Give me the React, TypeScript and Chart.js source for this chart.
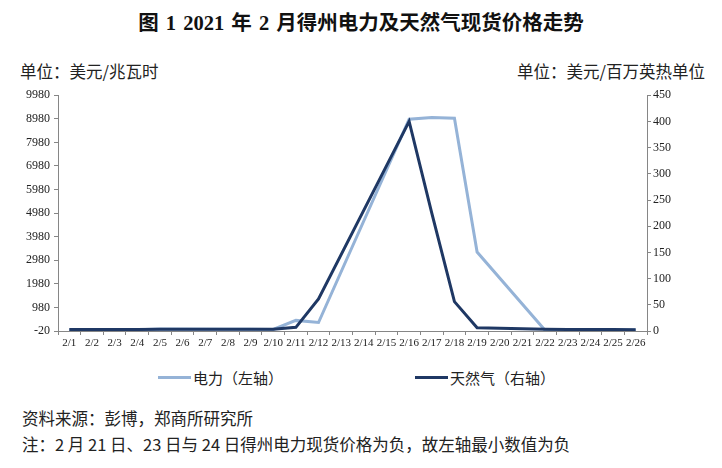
import { useEffect, useRef } from "react";
import Chart from "chart.js/auto";

const days = [
  "2/1", "2/2", "2/3", "2/4", "2/5", "2/6", "2/7", "2/8", "2/9", "2/10",
  "2/11", "2/12", "2/13", "2/14", "2/15", "2/16", "2/17", "2/18", "2/19", "2/20",
  "2/21", "2/22", "2/23", "2/24", "2/25", "2/26",
];

// 电力, 美元/兆瓦时 (left axis); null = no print that day
const power = [
  20, 20, 25, 30, 60, null, null, 55, 50, 45,
  430, 340, null, null, null, 8960, 9030, 9000, 3330, null,
  null, 10, -15, -10, 20, 25,
];

// 天然气, 美元/百万英热单位 (right axis)
const gas = [
  2.8, 2.8, 2.9, 3, 3.2, null, null, 3.3, 3.3, 3.5,
  7, 61, null, null, null, 400, 225, 56, 6, null,
  null, 3.5, 3, 2.8, 2.7, 2.6,
];

const leftTicks = [-20, 980, 1980, 2980, 3980, 4980, 5980, 6980, 7980, 8980, 9980];
const rightTicks = [0, 50, 100, 150, 200, 250, 300, 350, 400, 450];

const LIGHT = "#95b3d7";
const DARK = "#1f3864";
const AXIS = "#868686";
const cjk = '"Noto Sans CJK SC", sans-serif';
const yFont = { family: '"Liberation Serif", serif', size: 12 };
const xFont = { family: '"Liberation Serif", serif', size: 11 };

export default function App() {
  const ref = useRef<HTMLCanvasElement | null>(null);

  useEffect(() => {
    if (!ref.current) return;
    const c = new Chart(ref.current, {
      type: "line",
      data: {
        labels: days,
        datasets: [
          {
            label: "电力（左轴）",
            data: power,
            yAxisID: "y",
            borderColor: LIGHT,
            borderWidth: 3,
            pointRadius: 0,
            spanGaps: true,
            order: 1,
          },
          {
            label: "天然气（右轴）",
            data: gas,
            yAxisID: "y2",
            borderColor: DARK,
            borderWidth: 3,
            pointRadius: 0,
            spanGaps: true,
            order: 0,
          },
        ],
      },
      options: {
        responsive: false,
        animation: false,
        layout: { padding: { top: 10, left: 0, right: 35, bottom: 0 } },
        plugins: { legend: { display: false }, tooltip: { enabled: false } },
        scales: {
          x: {
            offset: true,
            grid: { display: true, offset: true, drawOnChartArea: false, tickLength: 4, color: AXIS },
            border: { color: AXIS },
            ticks: { autoSkip: false, maxRotation: 0, minRotation: 0, padding: 2, color: "#222", font: xFont },
            afterFit: (s: any) => { s.height = 23; },
          },
          y: {
            position: "left",
            min: -20,
            max: 9980,
            afterBuildTicks: (s: any) => { s.ticks = leftTicks.map((v) => ({ value: v })); },
            grid: { drawOnChartArea: false, tickLength: 4, color: AXIS },
            border: { color: AXIS },
            ticks: { padding: 4, color: "#222", font: yFont, callback: (v: any) => String(v) },
            afterFit: (s: any) => { s.width = 58; },
          },
          y2: {
            position: "right",
            min: 0,
            max: 450,
            afterBuildTicks: (s: any) => { s.ticks = rightTicks.map((v) => ({ value: v })); },
            grid: { drawOnChartArea: false, tickLength: 4, color: AXIS },
            border: { color: AXIS },
            ticks: { padding: 2, color: "#222", font: yFont, callback: (v: any) => String(v) },
            afterFit: (s: any) => { s.width = 40; },
          },
        },
      },
    });
    return () => c.destroy();
  }, []);

  return (
    <div style={{ position: "absolute", left: 0, top: 0, width: 722, height: 468, background: "#fff", color: "#222", fontFamily: cjk, overflow: "hidden" }}>
      <div style={{ position: "absolute", top: 6, left: 0, width: 722, textAlign: "center", fontSize: 20.5, fontWeight: 700, fontFamily: '"Liberation Serif", "Noto Sans CJK SC", serif', color: "#111", wordSpacing: 2 }}>
        图 1 2021 年 2 月得州电力及天然气现货价格走势
      </div>
      <div style={{ position: "absolute", top: 59, left: 20, fontSize: 16.5 }}>单位：美元/兆瓦时</div>
      <div style={{ position: "absolute", top: 59, right: 17, fontSize: 16.5 }}>单位：美元/百万英热单位</div>
      <canvas ref={ref} width={722} height={270} style={{ position: "absolute", left: 0, top: 84 }} />
      <div style={{ position: "absolute", top: 367, left: 158, display: "flex", alignItems: "center", fontSize: 15 }}>
        <span style={{ display: "inline-block", width: 33, height: 3, background: LIGHT, marginRight: 2 }} />
        电力（左轴）
      </div>
      <div style={{ position: "absolute", top: 367, left: 415, display: "flex", alignItems: "center", fontSize: 15 }}>
        <span style={{ display: "inline-block", width: 33, height: 3, background: DARK, marginRight: 2 }} />
        天然气（右轴）
      </div>
      <div style={{ position: "absolute", top: 406, left: 22, fontSize: 16.5 }}>资料来源：彭博，郑商所研究所</div>
      <div style={{ position: "absolute", top: 432, left: 22, fontSize: 16.5 }}>注：2 月 21 日、23 日与 24 日得州电力现货价格为负，故左轴最小数值为负</div>
    </div>
  );
}
